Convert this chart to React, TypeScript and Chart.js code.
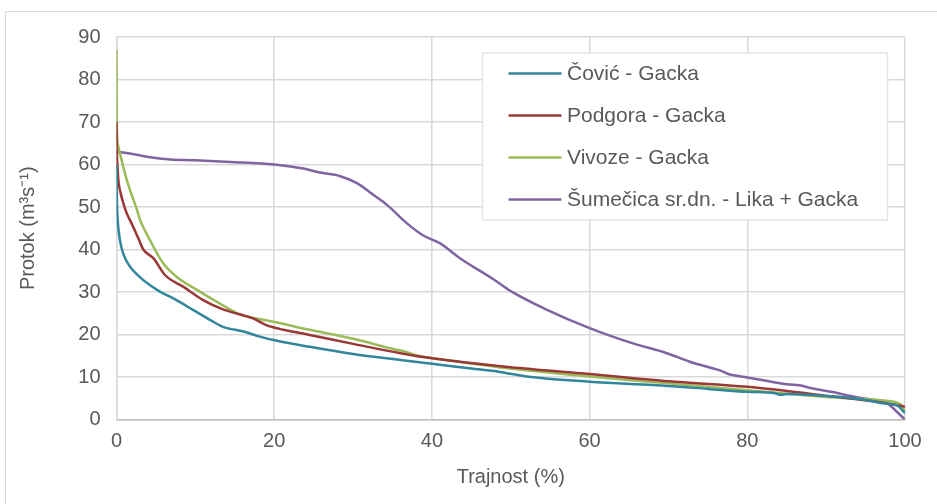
import React, { useEffect, useRef } from "react";
import { Chart, registerables } from "chart.js";

Chart.register(...registerables);

// Tick labels / axes
const xTicks = [0, 20, 40, 60, 80, 100];
const yTicks = [0, 10, 20, 30, 40, 50, 60, 70, 80, 90];
const xTitle = "Trajnost (%)";
const yTitle = "Protok (m³s⁻¹)";

// Series names & colours
const seriesNames = [
  "Čović - Gacka",
  "Podgora - Gacka",
  "Vivoze - Gacka",
  "Šumečica sr.dn. - Lika + Gacka",
];
const seriesColors = ["#31859C", "#993835", "#9BBB59", "#8064A2"];

// Čović - Gacka
const covicX = [0, 0.05, 0.15, 0.3, 0.5, 0.9, 1.7, 2.5, 3.4, 4.5, 5.5, 7.6, 9.7, 11.9, 13.5, 16.1, 18.2, 19.9, 24.5, 30, 36, 40, 45, 48.6, 52, 60, 70, 75, 80, 83.5, 84.2, 85, 91, 95, 97.2, 99, 100];
const covicY = [60, 52, 47, 44, 41.5, 38.8, 36.0, 34.3, 32.8, 31.3, 30.1, 28.1, 25.8, 23.4, 21.8, 20.7, 19.5, 18.7, 17.1, 15.4, 14.0, 13.1, 12.0, 11.2, 10.1, 8.9, 7.9, 7.2, 6.5, 6.2, 5.8, 6.0, 5.4, 4.6, 3.8, 3.3, 1.5];

// Podgora - Gacka
const podgoraX = [0, 0.05, 0.15, 0.23, 0.5, 0.86, 1.3, 1.9, 2.8, 3.4, 4.7, 6.15, 8.5, 11, 13.5, 15.7, 17.3, 19, 21.2, 24.5, 30, 36, 40, 50, 60, 70, 80, 90.9, 97, 100];
const podgoraY = [70, 63, 59, 56.4, 53.5, 50.9, 48.5, 46.2, 42.5, 40, 37.9, 34, 31.2, 28.1, 25.9, 24.7, 23.8, 22.2, 21.1, 19.9, 17.8, 15.6, 14.4, 12.3, 10.7, 9.0, 7.7, 5.4, 4.0, 3.0];

// Vivoze - Gacka
const vivozeX = [0, 0.02, 0.05, 0.2, 0.44, 1.3, 2.6, 3.0, 4.25, 5.9, 7.6, 10.2, 13.1, 15.7, 18.2, 19.9, 24.5, 30, 35.1, 36.5, 38.5, 40, 50, 60, 70, 80, 90, 97.2, 99.5, 100];
const vivozeY = [87, 76, 68, 64.5, 62.6, 56.4, 49.3, 46.9, 42.2, 36.8, 33.6, 30.5, 27.3, 24.7, 23.6, 23.0, 21.1, 19.0, 16.6, 16.0, 14.9, 14.5, 12.0, 10.1, 8.5, 6.9, 5.3, 4.5, 3.5, 1.8];

// Šumečica sr.dn. - Lika + Gacka
const sumecicaX = [0, 1.7, 4.25, 6.8, 10, 14.4, 20, 23.5, 25.8, 28.3, 30.5, 32.6, 34.3, 36.8, 38.9, 41, 43.6, 47.8, 50, 54.6, 60, 65.5, 69.8, 72.7, 75.7, 76.6, 77.6, 80, 85, 87.1, 87.6, 91.3, 92.6, 96.8, 97.4, 100];
const sumecicaY = [63, 62.6, 61.7, 61.2, 61.0, 60.6, 60.0, 59.1, 58.1, 57.3, 55.6, 52.8, 50.5, 46.2, 43.3, 41.5, 37.9, 33.0, 30.2, 25.8, 21.5, 17.9, 15.6, 13.6, 12.0, 11.5, 10.7, 9.9, 8.3, 7.9, 7.6, 6.3, 5.7, 4.4, 4.2, 0];

const seriesX = [covicX, podgoraX, vivozeX, sumecicaX];
const seriesY = [covicY, podgoraY, vivozeY, sumecicaY];

const FONT = "'Liberation Sans', Arial, sans-serif";
const TEXT = "#595959";

const legendPlugin = {
  id: "boxLegend",
  afterDatasetsDraw(chart: any) {
    const { ctx, chartArea: a } = chart;
    const x0 = a.left + 366;
    const y0 = a.top + 16;
    const w = 405;
    const h = 167;
    ctx.save();
    ctx.fillStyle = "#ffffff";
    ctx.fillRect(x0, y0, w, h);
    ctx.strokeStyle = "#e8e5dc";
    ctx.lineWidth = 1.5;
    ctx.strokeRect(x0, y0, w, h);
    ctx.font = `21px ${FONT}`;
    ctx.textBaseline = "middle";
    ctx.textAlign = "left";
    chart.data.datasets.forEach((ds: any, i: number) => {
      const cy = y0 + 20.6 + i * 42;
      ctx.strokeStyle = ds.borderColor;
      ctx.lineWidth = 2.5;
      ctx.beginPath();
      ctx.moveTo(x0 + 26, cy);
      ctx.lineTo(x0 + 79, cy);
      ctx.stroke();
      ctx.fillStyle = TEXT;
      ctx.fillText(ds.label, x0 + 84.5, cy + 1);
    });
    ctx.restore();
  },
};

export default function App() {
  const ref = useRef<HTMLCanvasElement | null>(null);

  useEffect(() => {
    if (!ref.current) return;
    const datasets = seriesNames.map((name, i) => ({
      label: name,
      data: seriesX[i].map((x, j) => ({ x, y: seriesY[i][j] })),
      borderColor: seriesColors[i],
      backgroundColor: seriesColors[i],
      borderWidth: 2.5,
      pointRadius: 0,
      cubicInterpolationMode: "monotone" as const,
      fill: false,
    }));
    const chart = new Chart(ref.current, {
      type: "line",
      data: { datasets },
      plugins: [legendPlugin],
      options: {
        animation: false,
        responsive: false,
        devicePixelRatio: 1,
        layout: { padding: { left: 0, top: 37, right: 32, bottom: 0 } },
        plugins: { legend: { display: false }, tooltip: { enabled: false } },
        scales: {
          x: {
            type: "linear",
            min: xTicks[0],
            max: xTicks[xTicks.length - 1],
            afterBuildTicks: (s: any) => {
              s.ticks = xTicks.map((v) => ({ value: v }));
            },
            afterFit: (s: any) => {
              s.height = 84.5;
            },
            ticks: { font: { family: FONT, size: 20 }, color: TEXT, padding: 10, maxRotation: 0 },
            grid: { color: "#d9d9d9", lineWidth: 1.5, drawTicks: false },
            border: { display: true, color: "#bfbfbf", width: 1.5 },
            title: {
              display: true,
              text: xTitle,
              font: { family: FONT, size: 20 },
              color: TEXT,
              padding: { top: 0, bottom: 15 },
            },
          },
          y: {
            type: "linear",
            min: yTicks[0],
            max: yTicks[yTicks.length - 1],
            afterBuildTicks: (s: any) => {
              s.ticks = yTicks.map((v) => ({ value: v }));
            },
            afterFit: (s: any) => {
              s.width = 116.5;
            },
            ticks: { font: { family: FONT, size: 20 }, color: TEXT, padding: 16 },
            grid: { color: "#d9d9d9", lineWidth: 1.5, drawTicks: false },
            border: { display: true, color: "#d9d9d9", width: 1.5 },
            title: {
              display: true,
              text: yTitle,
              font: { family: FONT, size: 20 },
              color: TEXT,
              padding: { top: 16, bottom: 0 },
            },
          },
        },
      },
    });
    return () => chart.destroy();
  }, []);

  return (
    <div
      style={{
        position: "fixed",
        left: 0,
        top: 0,
        width: 937,
        height: 504,
        overflow: "hidden",
        background: "#ffffff",
      }}
    >
      <div
        style={{
          position: "absolute",
          left: 5,
          top: 11,
          width: 1000,
          height: 1000,
          border: "1.5px solid #d9d9d9",
        }}
      />
      <canvas ref={ref} width={937} height={504} style={{ position: "absolute", left: 0, top: 0, display: "block" }} />
    </div>
  );
}
